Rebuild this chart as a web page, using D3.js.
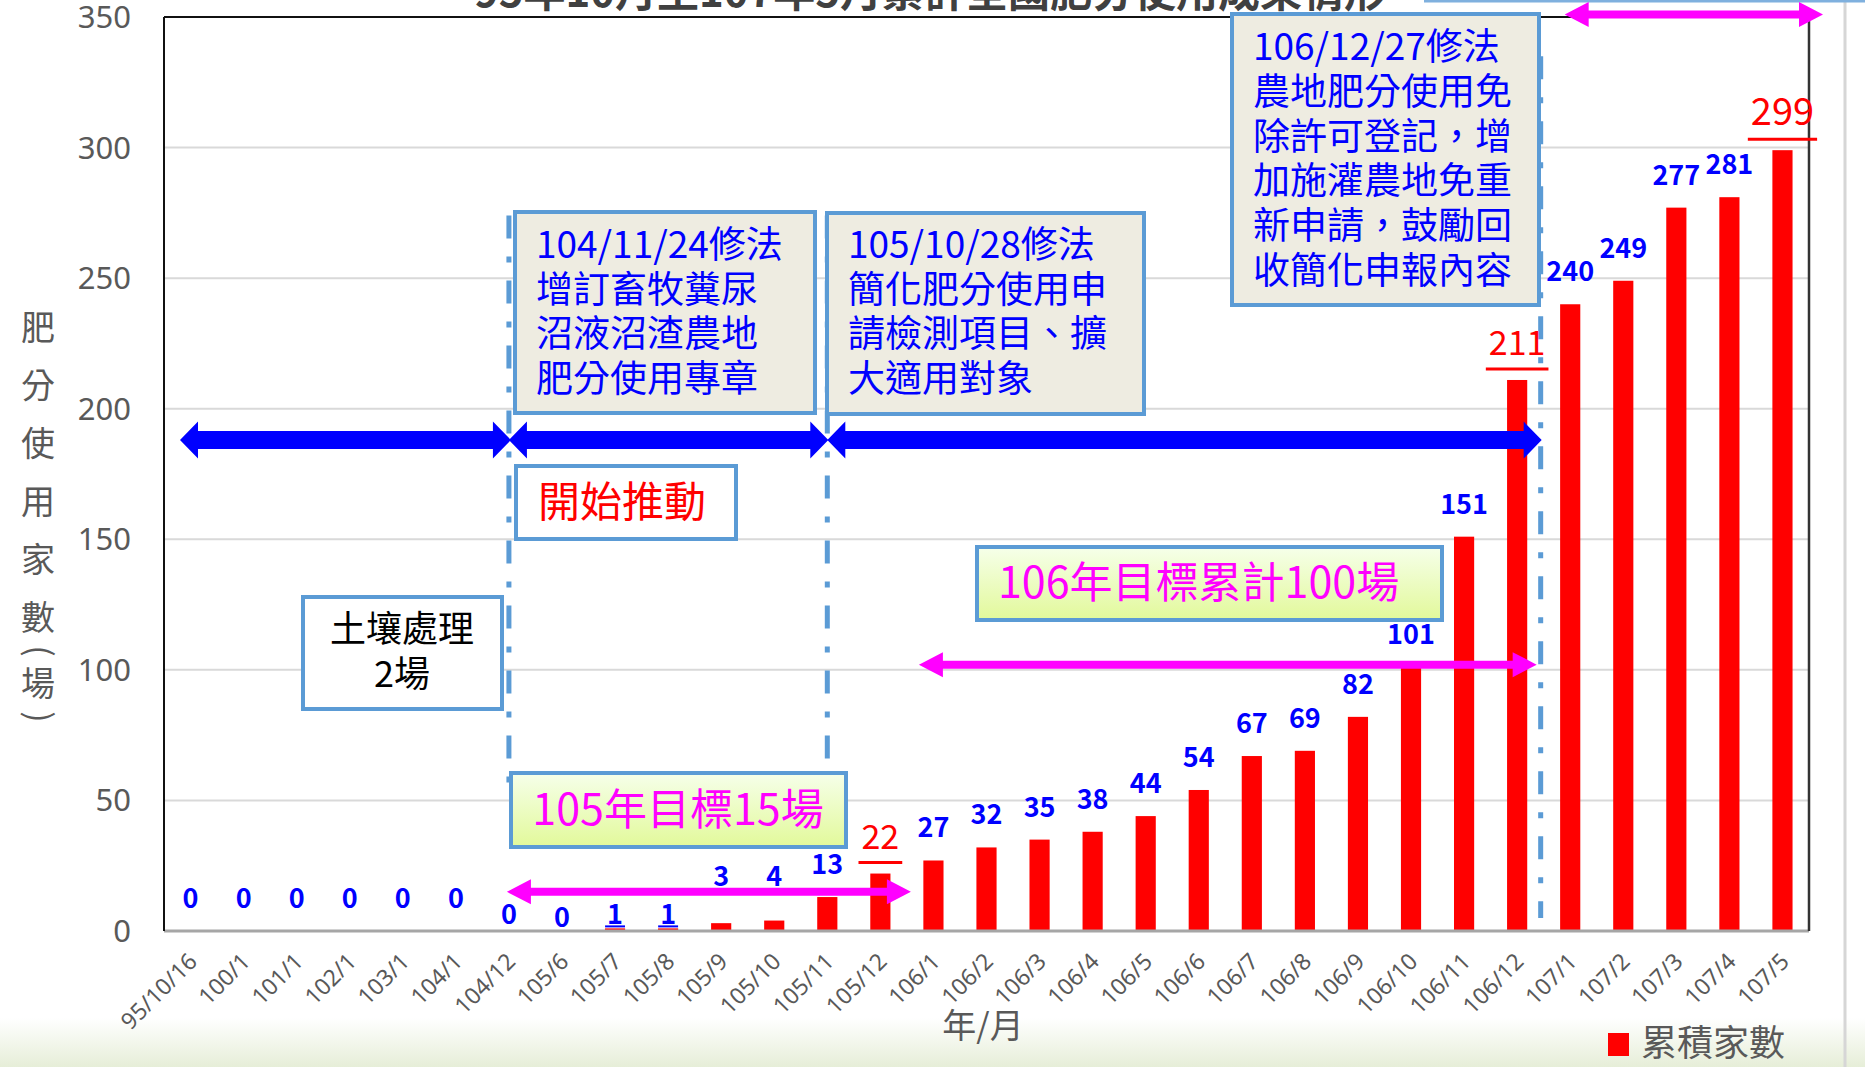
<!DOCTYPE html>
<html>
<head>
<meta charset="utf-8">
<script src="https://cdn.jsdelivr.net/npm/d3@7"></script>
<style>
    body { margin: 0; background: #fff; overflow: hidden; }
    svg { display: block; font-family: "Noto Sans CJK TC", "Noto Sans", sans-serif; }
</style>
</head>
<body>
<svg id="chart" width="1865" height="1067"></svg>
<script>
// data
const months = ["95/10/16", "100/1", "101/1", "102/1", "103/1", "104/1", "104/12",
    "105/6", "105/7", "105/8", "105/9", "105/10", "105/11", "105/12",
    "106/1", "106/2", "106/3", "106/4", "106/5", "106/6", "106/7", "106/8", "106/9", "106/10", "106/11", "106/12",
    "107/1", "107/2", "107/3", "107/4", "107/5"];
const counts = [0, 0, 0, 0, 0, 0, 0, 0, 1, 1, 3, 4, 13, 22, 27, 32, 35, 38, 44, 54, 67, 69, 82, 101, 151, 211, 240, 249, 277, 281, 299];
const highlighted = ["105/12", "106/12", "107/5"];
const yTicks = [0, 50, 100, 150, 200, 250, 300, 350];
const gridTicks = [50, 100, 150, 200, 250, 300];

const titleText = "95年10月至107年5月累計全國肥分使用成果情形";
const yTitle = ["肥", "分", "使", "用", "家", "數", "(", "場", ")"];
const xTitle = "年/月";
const legendText = "累積家數";

const noteSoil = ["土壤處理", "2場"];
const note1041124 = ["104/11/24修法", "增訂畜牧糞尿", "沼液沼渣農地", "肥分使用專章"];
const note1051028 = ["105/10/28修法", "簡化肥分使用申", "請檢測項目、擴", "大適用對象"];
const note1061227 = ["106/12/27修法", "農地肥分使用免", "除許可登記，增", "加施灌農地免重", "新申請，鼓勵回", "收簡化申報內容"];
const noteStart = ["開始推動"];
const target105 = ["105年目標15場"];
const target106 = ["106年目標累計100場"];

// **layout**
const plot = { left: 164, right: 1809, top: 17, bottom: 931 };
const svg = d3.select("#chart");

const x = d3.scaleBand().domain(months).range([plot.left, plot.right])
    .paddingInner(0.62).paddingOuter(0.31);
const y = d3.scaleLinear().domain([0, 350]).range([plot.bottom, plot.top]);

const cx = d => x(d) + x.bandwidth() / 2;
const bandStart = d => cx(d) - x.step() / 2;
const bandEnd = d => cx(d) + x.step() / 2;

const defs = svg.append("defs");
const grad = defs.append("linearGradient").attr("id", "greenFill").attr("x1", 0).attr("y1", 0).attr("x2", 0).attr("y2", 1);
grad.append("stop").attr("offset", "0%").attr("stop-color", "#f6ffea");
grad.append("stop").attr("offset", "100%").attr("stop-color", "#e2f99a");
const bg = defs.append("linearGradient").attr("id", "bottomBg").attr("x1", 0).attr("y1", 0).attr("x2", 0).attr("y2", 1);
bg.append("stop").attr("offset", "0%").attr("stop-color", "#ffffff");
bg.append("stop").attr("offset", "100%").attr("stop-color", "#e6eed8");

// slide background bits
svg.append("rect").attr("x", 0).attr("y", 1018).attr("width", 1865).attr("height", 49).attr("fill", "url(#bottomBg)");
svg.append("line").attr("x1", 1845).attr("x2", 1845).attr("y1", 0).attr("y2", 1067)
    .attr("stroke", "#d6d6d6").attr("stroke-width", 3);
svg.append("line").attr("x1", 1424).attr("x2", 1865).attr("y1", 1).attr("y2", 1)
    .attr("stroke", "#7fb0de").attr("stroke-width", 3);

// title (cut off at the top edge)
svg.append("text").attr("x", 930).attr("y", 7).attr("text-anchor", "middle")
    .attr("font-size", 42).attr("font-weight", "bold").attr("fill", "#404040").text(titleText);

// gridlines
svg.append("g").selectAll("line").data(gridTicks).join("line")
    .attr("x1", plot.left).attr("x2", plot.right)
    .attr("y1", d => y(d)).attr("y2", d => y(d))
    .attr("stroke", "#d9d9d9").attr("stroke-width", 2);

// bars
svg.append("g").selectAll("rect").data(months).join("rect")
    .attr("x", d => x(d))
    .attr("width", x.bandwidth())
    .attr("y", (d, i) => y(counts[i]))
    .attr("height", (d, i) => y(0) - y(counts[i]))
    .attr("fill", "#ff0000");

// plot frame
svg.append("line").attr("x1", plot.left).attr("x2", plot.right).attr("y1", plot.bottom).attr("y2", plot.bottom)
    .attr("stroke", "#a6a6a6").attr("stroke-width", 3);
svg.append("line").attr("x1", plot.left).attr("x2", plot.right).attr("y1", plot.top).attr("y2", plot.top)
    .attr("stroke", "#111").attr("stroke-width", 2);
svg.append("line").attr("x1", plot.left).attr("x2", plot.left).attr("y1", plot.top).attr("y2", plot.bottom)
    .attr("stroke", "#111").attr("stroke-width", 2);
svg.append("line").attr("x1", plot.right).attr("x2", plot.right).attr("y1", plot.top).attr("y2", plot.bottom)
    .attr("stroke", "#333").attr("stroke-width", 2.5);

// y tick labels
svg.append("g").selectAll("text").data(yTicks).join("text")
    .attr("x", 131).attr("y", d => y(d) + 11)
    .attr("text-anchor", "end").attr("font-size", 31).attr("fill", "#595959")
    .attr("font-family", "'Noto Sans', sans-serif")
    .text(d => d);

// x tick labels
svg.append("g").selectAll("text").data(months).join("text")
    .attr("transform", d => `translate(${cx(d) + 8},${plot.bottom + 32}) rotate(-45)`)
    .attr("text-anchor", "end").attr("font-size", 23).attr("fill", "#595959")
    .attr("font-family", "'Noto Sans', sans-serif")
    .text(d => d);

// **dash-dot separators**
const dashStyle = sel => sel.attr("stroke", "#5b9bd5").attr("stroke-width", 5).attr("stroke-dasharray", "23,18,6,18");
dashStyle(svg.append("line").attr("x1", cx("104/12")).attr("x2", cx("104/12")).attr("y1", y(274)).attr("y2", y(50)));
dashStyle(svg.append("line").attr("x1", cx("105/11")).attr("x2", cx("105/11")).attr("y1", y(274)).attr("y2", y(60)));
dashStyle(svg.append("line").attr("x1", bandStart("107/1") - 3).attr("x2", bandStart("107/1") - 3).attr("y1", y(335)).attr("y2", y(5)));

// **double headed arrows**
function arrow(x1, x2, yc, t, h, L, color) {
    const pts = [[x1, yc], [x1 + L, yc - h / 2], [x1 + L, yc - t / 2], [x2 - L, yc - t / 2], [x2 - L, yc - h / 2],
        [x2, yc], [x2 - L, yc + h / 2], [x2 - L, yc + t / 2], [x1 + L, yc + t / 2], [x1 + L, yc + h / 2]];
    svg.append("polygon").attr("points", pts.map(p => p.join(",")).join(" ")).attr("fill", color);
}
const blueY = y(188);
arrow(plot.left + 16, cx("104/12") + 2, blueY, 18, 37, 18, "#0000ff");
arrow(cx("104/12"), cx("105/11") + 1, blueY, 18, 37, 18, "#0000ff");
arrow(cx("105/11"), bandStart("107/1") - 2, blueY, 18, 37, 18, "#0000ff");

arrow(cx("104/12") - 2, bandEnd("105/12") + 4, y(15), 8, 25, 24, "#ff00ff");
arrow(bandStart("106/1") + 12, bandStart("107/1") - 7, y(102), 8, 25, 24, "#ff00ff");
arrow(bandStart("107/1") + 21, plot.right + 14, y(351), 8, 25, 24, "#ff00ff");

// **note boxes**
function noteBox(bx, by, bw, bh, fill, lines, opt) {
    const g = svg.append("g");
    g.append("rect").attr("x", bx).attr("y", by).attr("width", bw).attr("height", bh)
        .attr("fill", fill).attr("stroke", "#5b9bd5").attr("stroke-width", 4);
    g.selectAll("text").data(lines).join("text")
        .attr("x", opt.tx)
        .attr("y", (d, i) => opt.ty + i * (opt.lh || 0) + opt.fs * 0.36)
        .attr("text-anchor", opt.anchor || "start")
        .attr("font-size", opt.fs).attr("fill", opt.color)
        .text(d => d);
}
noteBox(303, 597, 199, 112, "#ffffff", noteSoil, { tx: 402, ty: 629, lh: 45, fs: 36, color: "#000", anchor: "middle" });
noteBox(515, 212, 300, 201, "#eeece1", note1041124, { tx: 536, ty: 245, lh: 44.5, fs: 37, color: "#0000ff" });
noteBox(827, 213, 317, 201, "#eeece1", note1051028, { tx: 848, ty: 245, lh: 44.5, fs: 37, color: "#0000ff" });
noteBox(1232, 14, 307, 291, "#eeece1", note1061227, { tx: 1253, ty: 47, lh: 44.7, fs: 37, color: "#0000ff" });
noteBox(516, 466, 220, 73, "#ffffff", noteStart, { tx: 538, ty: 502, fs: 42, color: "#ff0000" });
noteBox(511, 773, 335, 74, "url(#greenFill)", target105, { tx: 678, ty: 810, fs: 43, color: "#ff00ff", anchor: "middle" });
noteBox(977, 547, 465, 73, "url(#greenFill)", target106, { tx: 998, ty: 583, fs: 43, color: "#ff00ff" });

// **value labels**
const labelNudge = { "104/12": 16, "105/6": 19, "105/7": 19, "105/8": 19, "105/9": -14, "105/10": -12 };
const blueUnderlined = ["105/7", "105/8"];
const labels = svg.append("g");
months.forEach((m, i) => {
    const top = y(counts[i]);
    const hi = highlighted.includes(m);
    const base = hi ? top - 25 : top - 23 + (labelNudge[m] || 0);
    const t = labels.append("text")
        .attr("x", cx(m)).attr("y", base)
        .attr("text-anchor", "middle")
        .attr("font-size", hi ? (m === "107/5" ? 38 : 34) : 27)
        .attr("font-weight", hi ? "normal" : "bold")
        .attr("fill", hi ? "#ff0000" : "#0000ff")
        .text(counts[i]);
    const w = t.node().getComputedTextLength();
    if (hi) {
        labels.append("line").attr("x1", cx(m) - w / 2 - 3).attr("x2", cx(m) + w / 2 + 3)
            .attr("y1", top - 11).attr("y2", top - 11).attr("stroke", "#ff0000").attr("stroke-width", 3);
    } else if (blueUnderlined.includes(m)) {
        labels.append("line").attr("x1", cx(m) - w / 2 - 2).attr("x2", cx(m) + w / 2 + 2)
            .attr("y1", base + 2).attr("y2", base + 2).attr("stroke", "#0000ff").attr("stroke-width", 2);
    }
});

// axis titles
let yy = 328;
yTitle.forEach((c, i) => {
    if (i > 0) yy += (c === "(" || c === ")" || yTitle[i - 1] === "(" || yTitle[i - 1] === ")") ? 33 : 58;
    const t = svg.append("text").attr("text-anchor", "middle").attr("font-size", 34).attr("fill", "#595959").text(c);
    if (c === "(" || c === ")") {
        t.attr("transform", `translate(38,${yy}) rotate(90)`).attr("dy", "0.33em");
    } else {
        t.attr("x", 38).attr("y", yy + 12);
    }
});
svg.append("text").attr("x", 983).attr("y", 1038).attr("text-anchor", "middle")
    .attr("font-size", 34).attr("fill", "#595959").text(xTitle);

// legend
svg.append("rect").attr("x", 1608).attr("y", 1033).attr("width", 21).attr("height", 23).attr("fill", "#ff0000");
svg.append("text").attr("x", 1641).attr("y", 1056).attr("font-size", 36).attr("fill", "#595959").text(legendText);
</script>
</body>
</html>
